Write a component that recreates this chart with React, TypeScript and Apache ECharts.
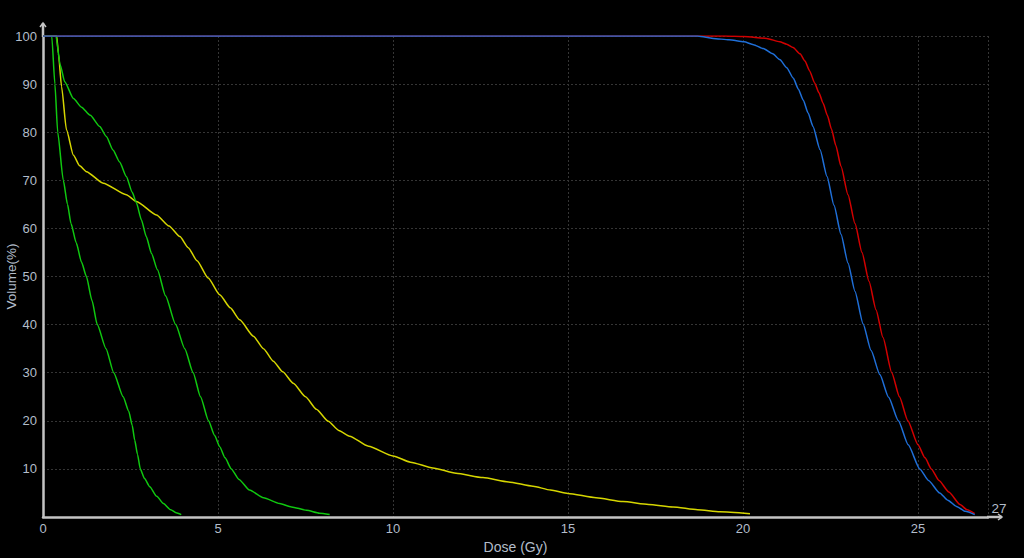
import React, { useEffect, useRef } from "react";
import * as echarts from "echarts";

const xAxisName = "Dose (Gy)";
const yAxisName = "Volume(%)";
const xMin = 0;
const xMax = 27;
const xInterval = 5;
const yMin = 0;
const yMax = 100;
const yInterval = 10;
const xEndLabel = "27";

const greenSteep: number[][] = [
  [0, 100], [0.25, 100], [0.34, 90], [0.42, 80], [0.58, 70], [0.7, 65], [0.8, 61], [0.95, 57],
  [1.1, 53], [1.24, 50], [1.4, 45], [1.55, 40], [1.8, 35], [2.02, 30], [2.29, 25],
  [2.45, 22], [2.55, 19], [2.62, 16], [2.7, 13], [2.78, 10], [2.9, 8], [3.05, 6.3],
  [3.25, 4.3], [3.44, 2.8], [3.65, 1.5], [3.8, 0.9], [3.95, 0.5],
];

const greenMid: number[][] = [
  [0, 100], [0.37, 100], [0.49, 94], [0.62, 90.5], [0.87, 87], [1.1, 85.2], [1.35, 83.5],
  [1.62, 81.2], [1.81, 79.1], [2.0, 76.3], [2.19, 73.8], [2.38, 70.8], [2.55, 67.5],
  [2.67, 65.3], [2.81, 61.8], [2.95, 58.3], [3.1, 54.8], [3.27, 51.4], [3.5, 46], [3.79, 40],
  [4.05, 35], [4.29, 30], [4.5, 25], [4.73, 20], [4.9, 17], [5.05, 14.6], [5.2, 12.3],
  [5.38, 10], [5.6, 7.8], [5.9, 5.6], [6.3, 4], [6.76, 2.8], [7.1, 2.1], [7.53, 1.4],
  [7.9, 0.8], [8.19, 0.5],
];

const yellowCurve: number[][] = [
  [0, 100], [0.39, 100], [0.44, 96.4], [0.53, 89.5], [0.67, 80.5], [0.87, 75.2], [1.05, 73],
  [1.24, 71.8], [1.72, 69.4], [2.38, 67], [2.67, 65.6], [3.24, 62.8], [3.6, 60.5], [3.91, 58.3],
  [4.15, 56], [4.4, 53.3], [4.72, 49.7], [5.05, 46.2], [5.35, 43.5], [5.62, 41], [6.01, 37.6],
  [6.3, 35], [6.58, 32.4], [6.85, 30.2], [7.15, 27.8], [7.5, 25], [7.81, 22.4], [8.15, 19.9],
  [8.45, 18], [8.76, 16.8], [9.3, 14.7], [10.0, 12.7], [10.5, 11.4], [11.14, 10.2],
  [11.8, 9.1], [12.57, 8.2], [13.3, 7.3], [14.0, 6.4], [14.5, 5.6], [15.0, 4.9], [15.8, 4.0],
  [16.57, 3.2], [17.3, 2.6], [18.0, 2.1], [18.7, 1.5], [19.34, 1.1], [20.2, 0.7],
];

const redCurve: number[][] = [
  [0, 100], [19.5, 100], [20.03, 99.9], [20.68, 99.5], [21.05, 98.8], [21.25, 98.3],
  [21.43, 97.6], [21.63, 96.3], [21.77, 94.8], [21.9, 92.8], [22.05, 90.2], [22.17, 88.2],
  [22.29, 86], [22.41, 83.5], [22.53, 80.6], [22.65, 77.3], [22.8, 72.9], [23.0, 67.0],
  [23.2, 61.0], [23.4, 55.0], [23.6, 49.0], [23.8, 43.1], [24.0, 37.3], [24.25, 30],
  [24.47, 25], [24.71, 20], [25.0, 15], [25.2, 12.3], [25.38, 10], [25.6, 7.6],
  [25.88, 5.2], [26.2, 2.6], [26.4, 1.5], [26.62, 0.7],
];

const blueCurve: number[][] = [
  [0, 100], [18.7, 100], [18.9, 99.8], [19.15, 99.5], [19.6, 99.2], [20.03, 98.8],
  [20.3, 98.2], [20.58, 97.4], [20.85, 96.3], [21.05, 95.1], [21.25, 93.4], [21.44, 91.2],
  [21.58, 89], [21.72, 86.7], [21.86, 84], [22.0, 81.2], [22.2, 76.4], [22.4, 70.8],
  [22.6, 64.8], [22.8, 58.8], [23.0, 52.8], [23.2, 46.9], [23.43, 40.2], [23.66, 34.6],
  [23.91, 29.6], [24.16, 24.9], [24.44, 20], [24.72, 15], [25.05, 10], [25.3, 7.6],
  [25.62, 5], [25.85, 3.5], [26.1, 2.2], [26.35, 1.2], [26.62, 0.5],
];

const labelColor = "#b3bdca";
const axisColor = "#c4c4c4";
const gridLineColor = "#353535";
const fontFamily = "'Liberation Sans', Arial, sans-serif";

export default function App() {
  const ref = useRef<HTMLDivElement>(null);

  useEffect(() => {
    if (!ref.current) return;
    const chart = echarts.init(ref.current, undefined, { renderer: "svg" });

    const lineSeries = (name: string, data: number[][], color: string) => ({
      name,
      type: "line",
      data,
      showSymbol: false,
      symbol: "none",
      smooth: 0.2,
      smoothMonotone: "x",
      lineStyle: { color, width: 1.5 },
      z: 3,
    });

    chart.setOption({
      animation: false,
      backgroundColor: "#000000",
      textStyle: { fontFamily },
      grid: { left: 43, right: 36, top: 36, bottom: 41, containLabel: false, outerBoundsMode: "none" },
      xAxis: {
        type: "value",
        min: xMin,
        max: xMax,
        interval: xInterval,
        name: xAxisName,
        nameLocation: "middle",
        nameGap: 23,
        nameMoveOverlap: false,
        nameTextStyle: { color: labelColor, fontSize: 14, fontFamily },
        axisLine: { show: true, lineStyle: { color: axisColor, width: 2.5 } },
        axisTick: { show: false },
        axisLabel: { color: labelColor, fontSize: 13, margin: 5, fontFamily, showMaxLabel: false },
        splitLine: { show: true, lineStyle: { color: gridLineColor, type: [2, 2], width: 1 } },
      },
      yAxis: {
        type: "value",
        min: yMin,
        max: yMax,
        interval: yInterval,
        name: yAxisName,
        nameLocation: "middle",
        nameGap: 25,
        nameRotate: 90,
        nameMoveOverlap: false,
        nameTextStyle: { color: labelColor, fontSize: 13.5, fontFamily },
        axisLine: { show: true, lineStyle: { color: axisColor, width: 2.5 } },
        axisTick: { show: false },
        axisLabel: { color: labelColor, fontSize: 13, margin: 6, fontFamily, showMinLabel: false },
        splitLine: { show: true, lineStyle: { color: gridLineColor, type: [2, 2], width: 1 } },
      },
      series: [
        lineSeries("yellow", yellowCurve, "#d6d600"),
        lineSeries("greenMid", greenMid, "#10c810"),
        lineSeries("greenSteep", greenSteep, "#10c810"),
        lineSeries("red", redCurve, "#d20000"),
        lineSeries("blue", blueCurve, "#1f6fd8"),
      ],
    });

    const origin = chart.convertToPixel({ gridIndex: 0 }, [xMin, yMin]) as number[];
    const xEnd = chart.convertToPixel({ gridIndex: 0 }, [xMax, yMin]) as number[];
    const yEnd = chart.convertToPixel({ gridIndex: 0 }, [xMin, yMax]) as number[];
    const ax = origin[0];
    const ay = origin[1];
    const xTip = xEnd[0] + 14;
    const yTip = yEnd[1] - 13;

    chart.setOption({
      graphic: [
        {
          type: "line",
          shape: { x1: xEnd[0] - 1, y1: ay, x2: xTip, y2: ay },
          style: { stroke: axisColor, lineWidth: 2.5 },
        },
        {
          type: "polyline",
          shape: { points: [[xTip - 4, ay - 3], [xTip, ay], [xTip - 4, ay + 3]] },
          style: { stroke: axisColor, lineWidth: 1.5, fill: null },
        },
        {
          type: "line",
          shape: { x1: ax, y1: yEnd[1] + 1, x2: ax, y2: yTip },
          style: { stroke: axisColor, lineWidth: 2.5 },
        },
        {
          type: "polyline",
          shape: { points: [[ax - 3, yTip + 4], [ax, yTip], [ax + 3, yTip + 4]] },
          style: { stroke: axisColor, lineWidth: 1.5, fill: null },
        },
        {
          type: "text",
          x: xEnd[0] + 11,
          y: ay - 9,
          style: {
            text: xEndLabel,
            fill: labelColor,
            fontSize: 13.5,
            fontFamily,
            textAlign: "center",
            textVerticalAlign: "middle",
          },
        },
      ],
    });

    return () => chart.dispose();
  }, []);

  return (
    <div
      ref={ref}
      style={{ position: "absolute", left: 0, top: 0, width: 1024, height: 558, background: "#000" }}
    />
  );
}
